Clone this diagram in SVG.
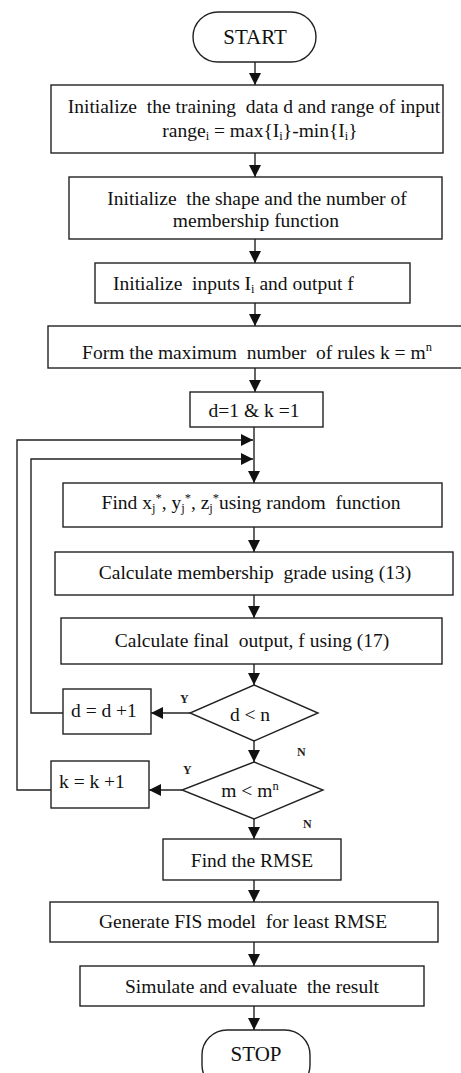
<svg xmlns="http://www.w3.org/2000/svg" width="461" height="1073" viewBox="0 0 461 1073">
<style>
.b{fill:#fff;stroke:#222;stroke-width:1.4}
.t{font-family:"Liberation Serif","Times New Roman",serif;font-size:19.5px;fill:#111;text-anchor:middle;white-space:pre}
.big{font-size:21px}
.s{font-size:12.5px}
.l{font-family:"Liberation Serif","Times New Roman",serif;font-size:12px;font-weight:bold;fill:#222}
.c{fill:none;stroke:#222;stroke-width:1.4}
</style>
<defs>
<marker id="a" viewBox="0 0 10 10" refX="10" refY="5" markerWidth="12" markerHeight="12" markerUnits="userSpaceOnUse" orient="auto">
<path d="M0,0 L10,5 L0,10 z" fill="#111"/>
</marker>
</defs>
<rect width="461" height="1073" fill="#fff"/>
<g id="connectors">
<path class="c" d="M255,62 V85" marker-end="url(#a)"/>
<path class="c" d="M255,153 V177" marker-end="url(#a)"/>
<path class="c" d="M255,239 V263" marker-end="url(#a)"/>
<path class="c" d="M255,303 V326" marker-end="url(#a)"/>
<path class="c" d="M255,368 V392" marker-end="url(#a)"/>
<path class="c" d="M254,427 V483" marker-end="url(#a)"/>
<path class="c" d="M254,527 V552" marker-end="url(#a)"/>
<path class="c" d="M254,595 V618" marker-end="url(#a)"/>
<path class="c" d="M254,664 V685" marker-end="url(#a)"/>
<path class="c" d="M254,741 V762" marker-end="url(#a)"/>
<path class="c" d="M254,819 V839" marker-end="url(#a)"/>
<path class="c" d="M254,880 V902" marker-end="url(#a)"/>
<path class="c" d="M254,942 V966" marker-end="url(#a)"/>
<path class="c" d="M254,1006 V1030" marker-end="url(#a)"/>
<path class="c" d="M190,713 H151" marker-end="url(#a)"/>
<path class="c" d="M182,790 H149" marker-end="url(#a)"/>
<path class="c" d="M63,713 H31 V459 H253" marker-end="url(#a)"/>
<path class="c" d="M51,790 H17 V440 H253" marker-end="url(#a)"/>
</g>
<g id="start"><rect class="b" x="193" y="12" width="123" height="50" rx="25"/><text class="t big" x="255" y="44">START</text></g>
<g id="n1"><rect class="b" x="51" y="85" width="392" height="68"/>
<text class="t" x="254" y="113">Initialize  the training  data d and range of input</text>
<text class="t" x="260" y="137">range<tspan class="s" dy="3">i</tspan><tspan dy="-3"> = max{I</tspan><tspan class="s" dy="3">i</tspan><tspan dy="-3">}-min{I</tspan><tspan class="s" dy="3">i</tspan><tspan dy="-3">}</tspan></text></g>
<g id="n2"><rect class="b" x="69" y="177" width="373" height="62"/>
<text class="t" x="257" y="205">Initialize  the shape and the number of</text>
<text class="t" x="256" y="227">membership function</text></g>
<g id="n3"><rect class="b" x="95" y="263" width="315" height="40"/>
<text class="t" x="113" y="290" style="text-anchor:start">Initialize  inputs I<tspan class="s" dy="3">i</tspan><tspan dy="-3"> and output f</tspan></text></g>
<g id="n4"><rect class="b" x="48" y="326" width="416" height="42"/>
<text class="t" x="257" y="359">Form the maximum  number  of rules k = m<tspan class="s" dy="-8">n</tspan></text></g>
<g id="n5"><rect class="b" x="190" y="392" width="133" height="35"/>
<text class="t" x="254" y="417">d=1 &amp; k =1</text></g>
<g id="n6"><rect class="b" x="63" y="483" width="379" height="44"/>
<text class="t" x="251" y="509">Find x<tspan class="s" dy="3">j</tspan><tspan class="s" dy="-10">*</tspan><tspan dy="7">, y</tspan><tspan class="s" dy="3">j</tspan><tspan class="s" dy="-10">*</tspan><tspan dy="7">, z</tspan><tspan class="s" dy="3">j</tspan><tspan class="s" dy="-10">*</tspan><tspan dy="7">using random  function</tspan></text></g>
<g id="n7"><rect class="b" x="55" y="552" width="398" height="43"/>
<text class="t" x="255" y="579">Calculate membership  grade using (13)</text></g>
<g id="n8"><rect class="b" x="61" y="618" width="381" height="46"/>
<text class="t" x="252" y="647">Calculate final  output, f using (17)</text></g>
<g id="d1"><polygon class="b" points="254,685 318,713 254,741 190,713"/>
<text class="t" x="250" y="721">d &lt; n</text></g>
<g id="n9"><rect class="b" x="63" y="689" width="88" height="45"/>
<text class="t" x="71" y="717" style="text-anchor:start">d = d +1</text></g>
<g id="d2"><polygon class="b" points="254,762 323,790 254,819 182,790"/>
<text class="t" x="250" y="797">m &lt; m<tspan class="s" dy="-7">n</tspan></text></g>
<g id="n10"><rect class="b" x="51" y="761" width="98" height="47"/>
<text class="t" x="59" y="788" style="text-anchor:start">k = k +1</text></g>
<g id="n11"><rect class="b" x="163" y="839" width="178" height="41"/>
<text class="t" x="252" y="867">Find the RMSE</text></g>
<g id="n12"><rect class="b" x="50" y="902" width="388" height="40"/>
<text class="t" x="243" y="928">Generate FIS model  for least RMSE</text></g>
<g id="n13"><rect class="b" x="80" y="966" width="344" height="40"/>
<text class="t" x="252" y="993">Simulate and evaluate  the result</text></g>
<g id="stop"><rect class="b" x="202" y="1030" width="108" height="60" rx="25"/><text class="t big" x="256" y="1061">STOP</text></g>
<g id="labels">
<text class="l" x="180" y="703">Y</text>
<text class="l" x="297" y="756">N</text>
<text class="l" x="183" y="774">Y</text>
<text class="l" x="303" y="828">N</text>
</g>
</svg>
